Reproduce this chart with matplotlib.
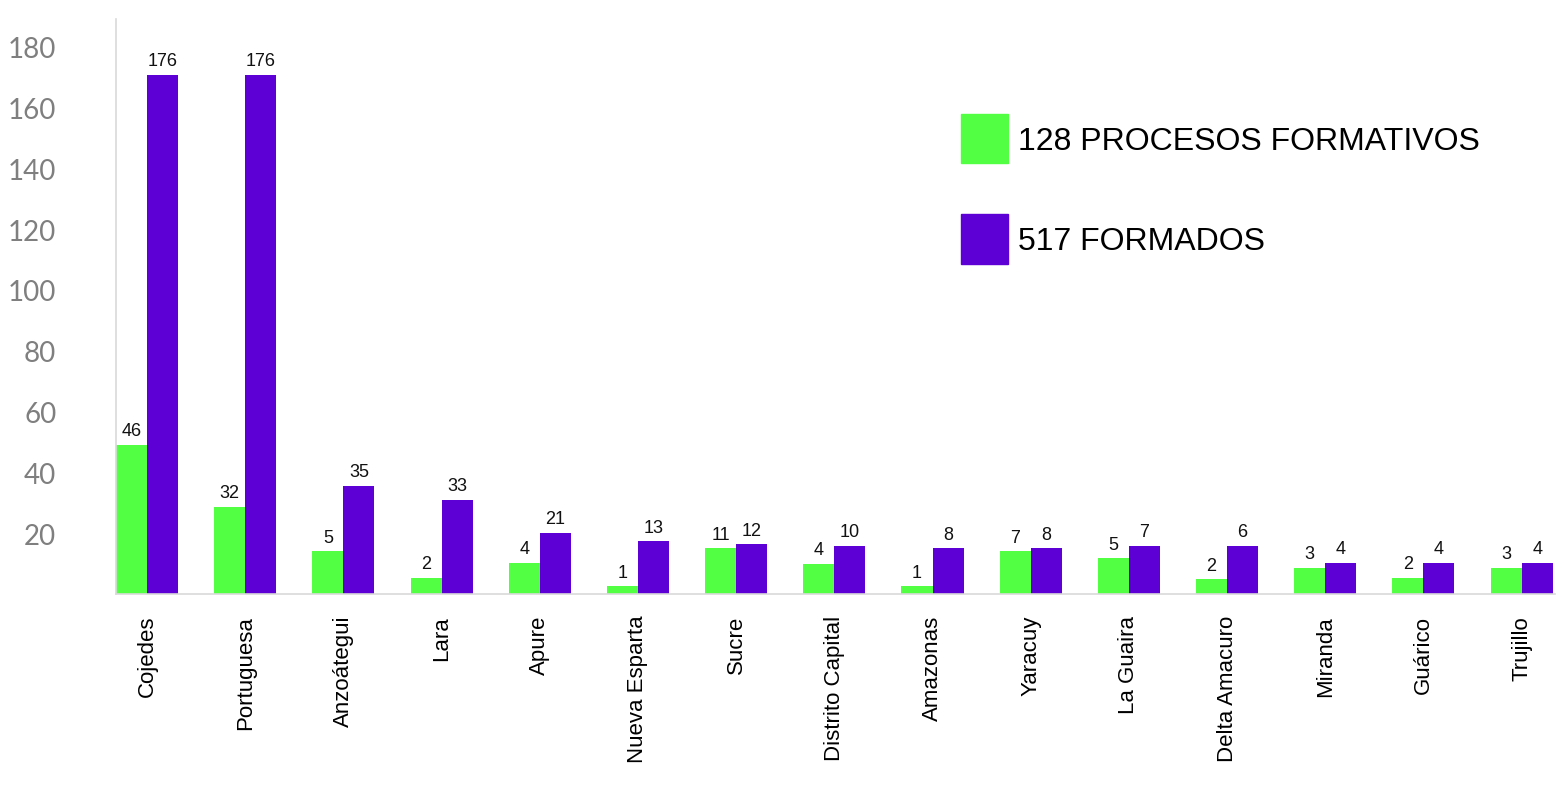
import matplotlib
matplotlib.use("Agg")
import matplotlib.pyplot as plt
import matplotlib.patches as mpatches
import numpy as np

states = ["Cojedes", "Portuguesa", "Anzoátegui", "Lara", "Apure", "Nueva Esparta",
          "Sucre", "Distrito Capital", "Amazonas", "Yaracuy", "La Guaira",
          "Delta Amacuro", "Miranda", "Guárico", "Trujillo"]
# displayed labels
procesos_labels = [46, 32, 5, 2, 4, 1, 11, 4, 1, 7, 5, 2, 3, 2, 3]
formados_labels = [176, 176, 35, 33, 21, 13, 12, 10, 8, 8, 7, 6, 4, 4, 4]
# bar heights as drawn in the picture (axis units)
procesos_heights = [49.0, 28.6, 14.1, 5.3, 10.2, 2.6, 15.1, 9.9, 2.6, 14.1, 11.8, 4.9, 8.6, 5.3, 8.6]
formados_heights = [170.7, 170.7, 35.5, 30.9, 20.1, 17.4, 16.4, 15.8, 15.1, 15.1, 15.8, 15.8, 10.2, 10.2, 10.2]
yticks = [20, 40, 60, 80, 100, 120, 140, 160, 180]
legend_labels = ["128 PROCESOS FORMATIVOS", "517 FORMADOS"]

green = "#52ff42"
purple = "#5c00d5"

fig = plt.figure(figsize=(15.66, 8.03), dpi=100)
ax = fig.add_axes([116/1566, 1-595/803, (1555-116)/1566, (595-20)/803])

x = np.arange(len(states))
w = 0.316
b1 = ax.bar(x - w/2, procesos_heights, width=w, color=green)
b2 = ax.bar(x + w/2, formados_heights, width=w, color=purple)

for bars, labs in ((b1, procesos_labels), (b2, formados_labels)):
    for rect, lab in zip(bars, labs):
        ax.annotate(str(lab), (rect.get_x() + rect.get_width()/2, rect.get_height()),
                    xytext=(0, 4), textcoords="offset points", ha="center", va="bottom",
                    fontsize=13, family="Liberation Sans", color="#111111")

ax.set_xlim(-w, len(states) - 1 + 0.34)
ax.set_ylim(0, 189.1)
ax.set_yticks(yticks)
ax.set_yticklabels([str(v) for v in yticks],
                   fontsize=20, family="Lato", color="#7f7f7f")
ax.tick_params(axis="y", length=0, pad=43)
ax.set_xticks(x)
ax.set_xticklabels(states, rotation=90, fontsize=16, family="Liberation Sans", color="black")
ax.tick_params(axis="x", length=0, pad=15)

for s in ("top", "right"):
    ax.spines[s].set_visible(False)
for s in ("left", "bottom"):
    ax.spines[s].set_color("#d9d9d9")
    ax.spines[s].set_linewidth(1.2)

handles = [mpatches.Patch(color=green), mpatches.Patch(color=purple)]
fig.legend(handles, legend_labels, loc="upper left",
           bbox_to_anchor=(961/1566, 1-115/803), frameon=False,
           prop={"family": "Liberation Sans", "size": 23},
           handlelength=1.47, handleheight=2.0, handletextpad=0.31,
           labelspacing=1.6, borderpad=0, borderaxespad=0)

fig.savefig("out.png", dpi=100)
